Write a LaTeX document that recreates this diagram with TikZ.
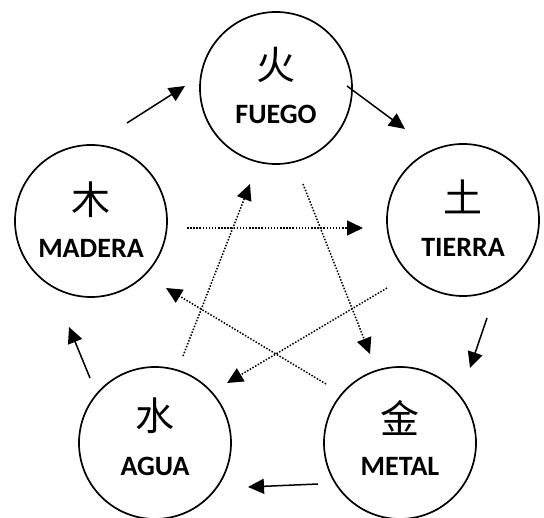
\documentclass[tikz,border=0pt]{standalone}
\usepackage{fontspec}
\setmainfont{Carlito}
\newfontfamily\cjk{Noto Sans CJK SC}
\usetikzlibrary{arrows.meta}
\begin{document}
\begin{tikzpicture}[x=1pt,y=-1pt,
 elem/.style={circle,draw,line width=1.7pt,minimum size=152pt,inner sep=0pt},
 han/.style={font=\cjk\fontsize{39}{39}\selectfont,inner sep=0pt},
 lbl/.style={font=\bfseries\fontsize{28}{28}\selectfont,inner sep=0pt},
 tipstyle/.style={-{Triangle[length=16pt,width=15pt]}},
 gen/.style={line width=1.5pt,tipstyle},
 ctl/.style={line width=1.5pt,dash pattern=on 1.5pt off 1.6pt,tipstyle}]
\useasboundingbox (0,0) rectangle (544,518);
% elements
\node[elem] (fuego) at (276,88) {};
\node[elem] (tierra) at (463,220) {};
\node[elem] (madera) at (91,221) {};
\node[elem] (agua) at (155,443) {};
\node[elem] (metal) at (400,443) {};
% texts
\node[han] (hf) at ([yshift=23pt]fuego.center) {火};
\node[lbl] (lf) at ([yshift=-26pt]fuego.center) {FUEGO};
\node[han] (ht) at ([yshift=23pt]tierra.center) {土};
\node[lbl] (lt) at ([yshift=-27pt]tierra.center) {TIERRA};
\node[han] (hm) at ([yshift=21pt]madera.center) {木};
\node[lbl] (lm) at ([yshift=-27pt]madera.center) {MADERA};
\node[han] (ha) at ([yshift=27pt]agua.center) {水};
\node[lbl] (la) at ([yshift=-23pt]agua.center) {AGUA};
\node[han] (hme) at ([yshift=25pt]metal.center) {金};
\node[lbl] (lme) at ([yshift=-23pt]metal.center) {METAL};
% generating cycle end points
\coordinate (g1s) at (127,123); \coordinate (g1e) at (185,86);
\coordinate (g2s) at (347,86);  \coordinate (g2e) at (405,129);
\coordinate (g3s) at (487,318); \coordinate (g3e) at (470,368);
\coordinate (g4s) at (318,484); \coordinate (g4e) at (248,487);
\coordinate (g5s) at (90,378);  \coordinate (g5e) at (69,327);
\draw[gen] (g1s) -- (g1e);
\draw[gen] (g2s) -- (g2e);
\draw[gen] (g3s) -- (g3e);
\draw[gen] (g4s) -- (g4e);
\draw[gen] (g5s) -- (g5e);
% control cycle end points
\coordinate (c1s) at (187,228); \coordinate (c1e) at (363,228);
\coordinate (c2s) at (183,356); \coordinate (c2e) at (250,184);
\coordinate (c3s) at (303,184); \coordinate (c3e) at (370,354);
\coordinate (c4s) at (387,288); \coordinate (c4e) at (227,383);
\coordinate (c5s) at (326,384); \coordinate (c5e) at (166,288);
\draw[ctl] (c1s) -- (c1e);
\draw[ctl] (c2s) -- (c2e);
\draw[ctl] (c3s) -- (c3e);
\draw[ctl] (c4s) -- (c4e);
\draw[ctl] (c5s) -- (c5e);
\end{tikzpicture}
\end{document}
